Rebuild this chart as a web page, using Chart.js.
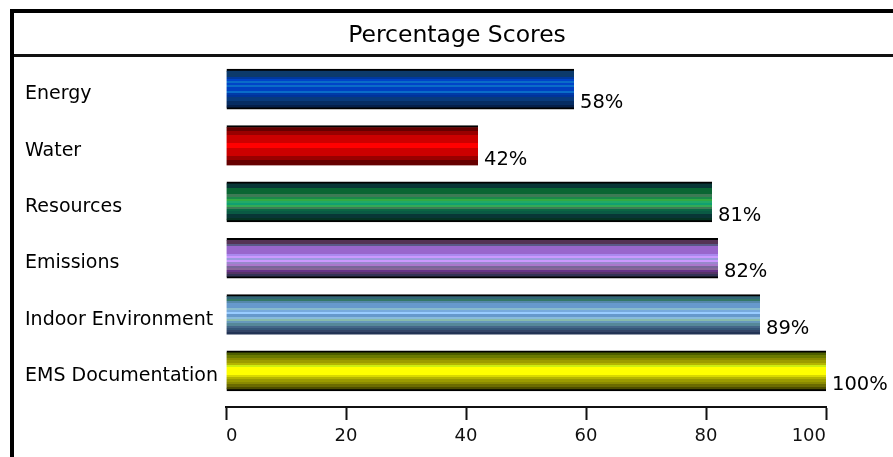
<!DOCTYPE html>
<html>
<head>
<meta charset="utf-8">
<script src="https://cdn.jsdelivr.net/npm/chart.js@4/dist/chart.umd.min.js"></script>
<style>
  html, body { margin: 0; padding: 0; background: #fff; overflow: hidden; }
  #wrap { width: 893px; height: 457px; position: relative; }
</style>
</head>
<body>
<div id="wrap"><canvas id="scores"></canvas></div>
<script>
// Chart data
const categories = ['Energy', 'Water', 'Resources', 'Emissions', 'Indoor Environment', 'EMS Documentation'];
const scores = [58, 42, 81, 82, 89, 100];
const xTicks = [0, 20, 40, 60, 80, 100];
const chartTitle = 'Percentage Scores';

// Horizontal stripe colours for each bar, top to bottom
const stripes = [
  ['#0c3a6c','#0c3a6c','#0c3a6c','#0038a0','#0044c8','#0a6cc8','#0044c8','#0a6cc8','#0040c0','#0040c0','#0a6cc8','#003aa8','#00339a','#083a7c','#083a7c','#062c62','#062c62','#051f4a'],
  ['#660000','#660000','#990000','#990000','#cc0000','#cc0000','#cc0000','#cc0000','#ff0000','#ff0000','#ff0000','#cc0000','#cc0000','#cc0000','#cc0000','#990000','#990000','#660000','#660000','#660000'],
  ['#083636','#083636','#0a6633','#0a6633','#0a6633','#3d7a55','#1a8a4a','#33aa44','#22aa66','#11a070','#33aa55','#3d7a55','#0a6644','#0a5a44','#083636','#083636','#053322'],
  ['#553355','#553355','#5a5a88','#9966cc','#9966cc','#9966cc','#9966cc','#aa88ee','#cc99ff','#9999dd','#cc99ff','#9988cc','#aa77cc','#776699','#886699','#663388','#553366','#333355'],
  ['#336677','#337766','#5588aa','#6699cc','#6699cc','#88bbcc','#77aadd','#99ccff','#6699cc','#88bbdd','#88bbaa','#6699bb','#558899','#446688','#335577','#334466','#223355'],
  ['#4d5e00','#6b7a00','#8a8a00','#9c9c00','#b5b500','#ccee11','#ffff00','#ffff00','#ffff00','#d9d900','#b5b500','#9c9c00','#8a8a00','#6b6b00','#4d4d00']
];
const bottomEdge = [2, 0, 2, 2, 0, 2];
const BAR = 40;
const FONT = 'DejaVu Sans';
// category names sit a little below the bar centre line
const LABEL_DROP = 0.09;

function stripeFill(ctx) {
  if (ctx.type !== 'data') return '#000';
  const chart = ctx.chart;
  const i = ctx.dataIndex;
  const yScale = chart.scales.y;
  if (!chart.chartArea || !yScale) return stripes[i][0];
  const cy = yScale.getPixelForValue(i);
  const top = cy - BAR / 2 + 2;
  const bottom = cy + BAR / 2 - bottomEdge[i];
  const g = chart.ctx.createLinearGradient(0, top, 0, bottom);
  const list = stripes[i];
  const n = list.length;
  list.forEach((c, k) => {
    g.addColorStop(k / n, c);
    g.addColorStop((k + 1) / n, c);
  });
  return g;
}

// Outer frame, title box and title text
const framePlugin = {
  id: 'frame',
  beforeDraw(chart) {
    const c = chart.ctx;
    c.save();
    c.fillStyle = '#fff';
    c.fillRect(0, 0, chart.width, chart.height);
    c.fillStyle = '#000';
    c.fillRect(10, 9, chart.width - 10, 4);   // top edge
    c.fillRect(10, 9, 4, chart.height - 9);   // left edge
    c.fillStyle = '#111';
    c.fillRect(14, 54, chart.width - 14, 3);  // title separator
    c.fillStyle = '#000';
    c.font = '23.5px "' + FONT + '"';
    c.textAlign = 'center';
    c.textBaseline = 'alphabetic';
    c.fillText(chartTitle, 457, 42);
    c.restore();
  }
};

// Percentage labels next to each bar end
const valueLabels = {
  id: 'valueLabels',
  afterDatasetsDraw(chart) {
    const c = chart.ctx;
    const meta = chart.getDatasetMeta(0);
    c.save();
    c.fillStyle = '#000';
    c.font = '19.5px "' + FONT + '"';
    c.textAlign = 'left';
    c.textBaseline = 'middle';
    meta.data.forEach((bar, i) => {
      c.fillText(scores[i] + '%', bar.x + 6, bar.y + 14);
    });
    c.restore();
  }
};

new Chart(document.getElementById('scores'), {
  type: 'bar',
  data: {
    datasets: [{
      data: scores.map((v, i) => ({ x: v, y: i })),
      backgroundColor: stripeFill,
      borderColor: '#000',
      borderWidth: ctx => ({ top: 2, bottom: bottomEdge[ctx.dataIndex] || 0, left: 0, right: 0 }),
      borderSkipped: false,
      barThickness: BAR
    }]
  },
  options: {
    indexAxis: 'y',
    responsive: true,
    maintainAspectRatio: false,
    animation: false,
    layout: { padding: { top: 61, left: 25, right: 67, bottom: 0 } },
    plugins: {
      legend: { display: false },
      tooltip: { enabled: false }
    },
    scales: {
      x: {
        type: 'linear',
        position: 'bottom',
        min: 0,
        max: 100,
        offset: false,
        afterBuildTicks: s => { s.ticks = xTicks.map(v => ({ value: v })); },
        afterFit: s => { s.height = 50; },
        grid: { drawOnChartArea: false, drawTicks: true, tickLength: 13, tickWidth: 2, tickColor: '#111', color: '#111' },
        border: { display: true, color: '#111', width: 2 },
        ticks: { align: 'inner', padding: 6, color: '#111', maxRotation: 0, font: { family: FONT, size: 18 } }
      },
      y: {
        type: 'linear',
        reverse: true,
        offset: false,
        min: -0.5,
        max: 5.64,
        afterBuildTicks: s => { s.ticks = categories.map((_, i) => ({ value: i + LABEL_DROP })); },
        afterFit: s => { s.width = 201; },
        grid: { display: false, offset: false },
        border: { display: false },
        ticks: {
          callback: v => categories[Math.round(v)],
          crossAlign: 'far',
          color: '#000',
          font: { family: FONT, size: 19 }
        }
      }
    }
  },
  plugins: [framePlugin, valueLabels]
});
</script>
</body>
</html>
